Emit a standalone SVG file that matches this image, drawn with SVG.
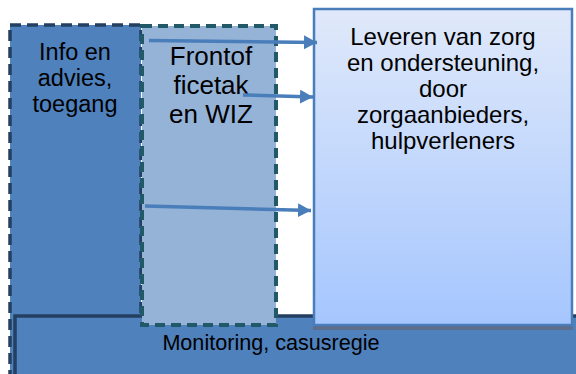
<svg xmlns="http://www.w3.org/2000/svg" width="576" height="374" viewBox="0 0 576 374">
<defs>
<linearGradient id="g" x1="0" y1="0" x2="0" y2="1">
<stop offset="0" stop-color="#E0E9FA"/>
<stop offset="1" stop-color="#A5C6FE"/>
</linearGradient>
<marker id="ah" markerUnits="userSpaceOnUse" markerWidth="14" markerHeight="16" refX="13" refY="7" orient="auto">
<path d="M0,0 L13,7 L0,14 Z" fill="#4A7EBB"/>
</marker>
</defs>
<style>
.t{font-family:"Liberation Sans",Arial,sans-serif;fill:#000;text-anchor:middle}
.c{stroke:#4A7EBB;stroke-width:3.5;fill:none}
</style>
<rect width="576" height="374" fill="#fff"/>
<g id="info">
<rect x="10" y="25" width="131" height="370" fill="#4F81BD" stroke="#243F60" stroke-width="3.5" stroke-dasharray="11,6"/>
<text class="t" font-size="23.5"><tspan x="75" y="60">Info en</tspan><tspan x="75" y="86">advies,</tspan><tspan x="75" y="112">toegang</tspan></text>
</g>
<g id="monitoring">
<rect x="15" y="316" width="580" height="80" fill="#4F81BD" stroke="#243F60" stroke-width="3.5"/>
<text class="t" font-size="21.6" x="271" y="350">Monitoring, casusregie</text>
</g>
<g id="frontoffice">
<rect x="142" y="26" width="134" height="299" fill="#95B3D7" stroke="#215968" stroke-width="4" stroke-dasharray="10,6"/>
<text class="t" font-size="26"><tspan x="211" y="65">Frontof</tspan><tspan x="211" y="94">ficetak</tspan><tspan x="211" y="123">en WIZ</tspan></text>
</g>
<g id="leveren">
<rect x="313" y="326" width="260" height="4" fill="#5C6E8A"/>
<rect x="314" y="9" width="258" height="316" fill="url(#g)" stroke="#4A7EBB" stroke-width="2.5"/>
<text class="t" font-size="24"><tspan x="443" y="45">Leveren van zorg</tspan><tspan x="443" y="71">en ondersteuning,</tspan><tspan x="443" y="97">door</tspan><tspan x="443" y="123">zorgaanbieders,</tspan><tspan x="443" y="149">hulpverleners</tspan></text>
</g>
<g id="connectors">
<line class="c" x1="149" y1="40.5" x2="317" y2="42.5" marker-end="url(#ah)"/>
<line class="c" x1="243" y1="95" x2="313" y2="97" marker-end="url(#ah)"/>
<line class="c" x1="145" y1="206" x2="311" y2="210.5" marker-end="url(#ah)"/>
</g>
</svg>
